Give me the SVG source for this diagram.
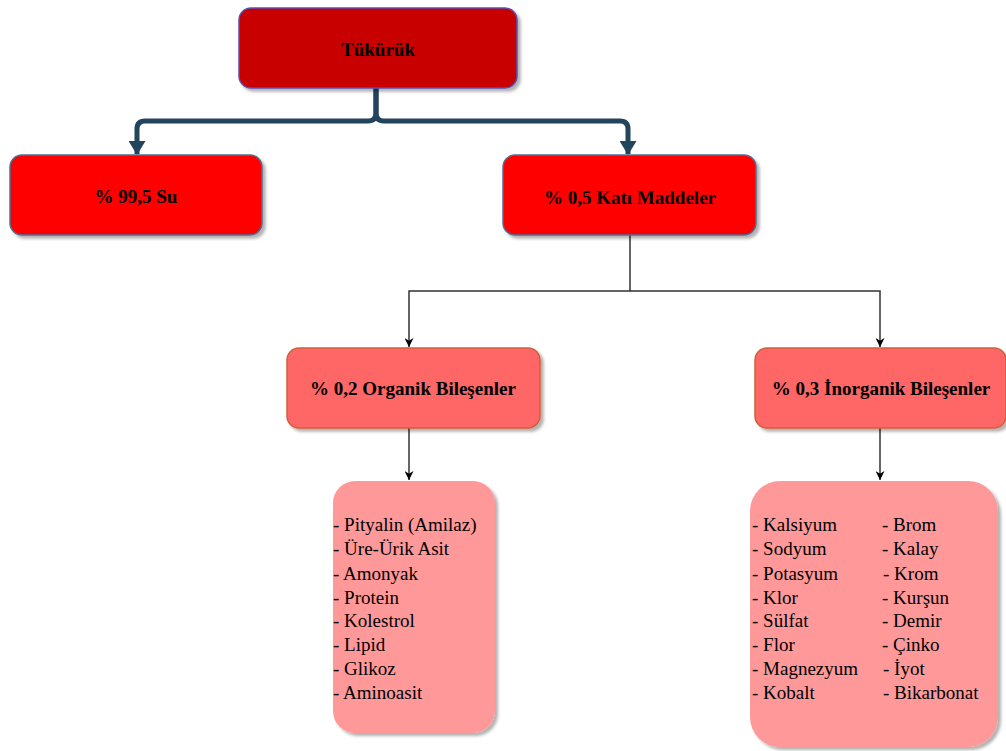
<svg xmlns="http://www.w3.org/2000/svg" width="1006" height="751" viewBox="0 0 1006 751">
<style>
.t{font-weight:bold;font-size:19px;fill:#000;text-anchor:middle;dominant-baseline:central}
.l{font-size:19px;fill:#000}
.c1{fill:none;stroke:#23445D;stroke-width:5}
.c2{fill:none;stroke:#333;stroke-width:1.5}
</style>
<defs>
<filter id="sh" x="-10%" y="-10%" width="130%" height="130%">
<feDropShadow dx="3" dy="3" stdDeviation="1.5" flood-color="#000" flood-opacity="0.3"/>
</filter>
<marker id="a1" viewBox="0 0 14 17" refX="13" refY="8.5" markerWidth="14" markerHeight="17" markerUnits="userSpaceOnUse" orient="auto">
<path d="M0,0 L14,8.5 L0,17 Z" fill="#23445D"/>
</marker>
<marker id="a2" viewBox="0 0 10 10" refX="10" refY="5" markerWidth="7" markerHeight="6" markerUnits="strokeWidth" orient="auto">
<path d="M0,0 L10,5 L0,10 L3,5 Z" fill="#000"/>
</marker>
</defs>
<g id="connectors">
<path class="c1" d="M376,88 V113 Q376,121 368,121 H145 Q137,121 137,129 V154" marker-end="url(#a1)"/>
<path class="c1" d="M376,88 V113 Q376,121 384,121 H620 Q628,121 628,129 V154" marker-end="url(#a1)"/>
<path class="c2" d="M630,235 V291 H409 V347" marker-end="url(#a2)"/>
<path class="c2" d="M630,291 H880 V347" marker-end="url(#a2)"/>
<path class="c2" d="M409,428 V480" marker-end="url(#a2)"/>
<path class="c2" d="M880,428 V480" marker-end="url(#a2)"/>
</g>
<g font-family="Liberation Serif, Times New Roman, serif">
<g id="n-tukuruk">
<rect x="239" y="8" width="278" height="80" rx="12" fill="#C80000" stroke="#5C4FB0" stroke-width="1.5" filter="url(#sh)"/>
<text class="t" x="378" y="49">Tükürük</text>
</g>
<g id="n-su">
<rect x="10" y="155" width="252" height="80" rx="12" fill="#FF0000" stroke="#4D6F95" stroke-width="1.5" filter="url(#sh)"/>
<text class="t" x="136" y="196">% 99,5 Su</text>
</g>
<g id="n-kati">
<rect x="503" y="155" width="253" height="80" rx="12" fill="#FF0000" stroke="#4D6F95" stroke-width="1.5" filter="url(#sh)"/>
<text class="t" x="630" y="197">% 0,5 Katı Maddeler</text>
</g>
<g id="n-organik">
<rect x="287" y="348" width="253" height="80" rx="12" fill="#FF6666" stroke="#D0603A" stroke-width="1.5" filter="url(#sh)"/>
<text class="t" x="413" y="388">% 0,2 Organik Bileşenler</text>
</g>
<g id="n-inorganik">
<rect x="755" y="348" width="251" height="80" rx="12" fill="#FF6666" stroke="#D0603A" stroke-width="1.5" filter="url(#sh)"/>
<text class="t" x="881" y="388">% 0,3 İnorganik Bileşenler</text>
</g>
<g id="n-organik-list">
<rect x="333" y="481" width="162" height="252" rx="22" fill="#FF9999" filter="url(#sh)"/>
<text class="l" x="333" y="531">- Pityalin (Amilaz)</text>
<text class="l" x="333" y="555">- Üre-Ürik Asit</text>
<text class="l" x="333" y="580">- Amonyak</text>
<text class="l" x="333" y="604">- Protein</text>
<text class="l" x="333" y="627">- Kolestrol</text>
<text class="l" x="333" y="651">- Lipid</text>
<text class="l" x="333" y="675">- Glikoz</text>
<text class="l" x="333" y="699">- Aminoasit</text>
</g>
<g id="n-inorganik-list">
<rect x="750" y="481" width="248" height="266" rx="30" fill="#FF9999" filter="url(#sh)"/>
<text class="l" x="752" y="531">- Kalsiyum</text>
<text class="l" x="752" y="555">- Sodyum</text>
<text class="l" x="752" y="580">- Potasyum</text>
<text class="l" x="752" y="604">- Klor</text>
<text class="l" x="752" y="627">- Sülfat</text>
<text class="l" x="752" y="651">- Flor</text>
<text class="l" x="752" y="675">- Magnezyum</text>
<text class="l" x="752" y="699">- Kobalt</text>
<text class="l" x="882" y="531">- Brom</text>
<text class="l" x="882" y="555">- Kalay</text>
<text class="l" x="883" y="580">- Krom</text>
<text class="l" x="882" y="604">- Kurşun</text>
<text class="l" x="882" y="627">- Demir</text>
<text class="l" x="882" y="651">- Çinko</text>
<text class="l" x="883" y="675">- İyot</text>
<text class="l" x="883" y="699">- Bikarbonat</text>
</g>
</g>
</svg>
